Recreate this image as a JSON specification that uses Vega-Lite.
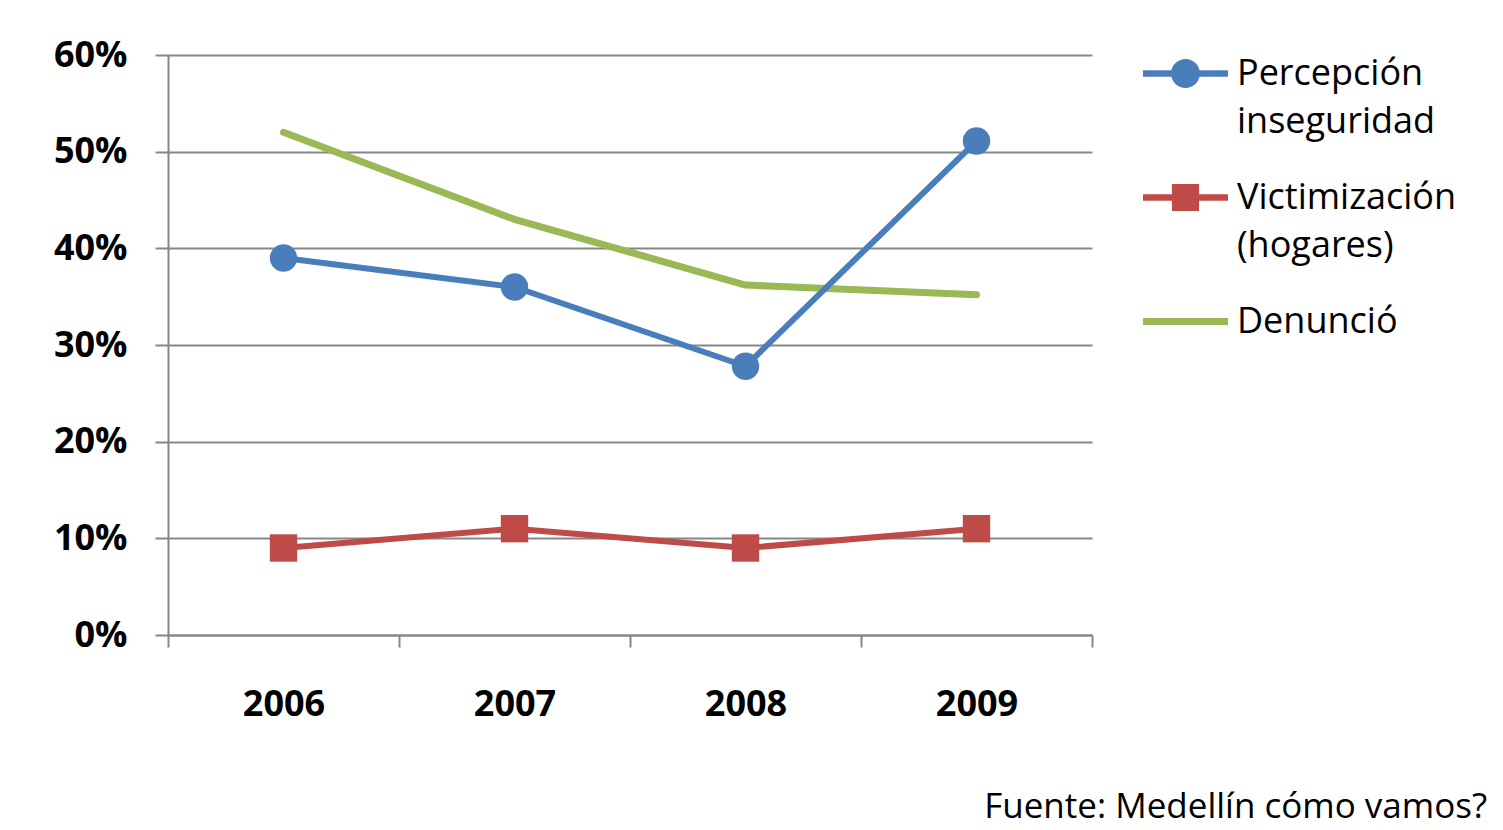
{
  "$schema": "https://vega.github.io/schema/vega-lite/v6.json",
  "autosize": "none",
  "width": 924,
  "height": 580,
  "padding": {"left": 168, "top": 55, "right": 411, "bottom": 195},
  "background": "white",
  "config": {
    "view": {"stroke": null},
    "font": "Open Sans",
    "axis": {
      "domainColor": "#878787",
      "domainWidth": 2,
      "tickColor": "#878787",
      "tickWidth": 2,
      "gridColor": "#878787",
      "gridWidth": 2,
      "labelFont": "Open Sans",
      "labelFontWeight": "bold",
      "labelColor": "black",
      "title": null
    }
  },
  "title": {
    "text": "Fuente: Medellín cómo vamos?",
    "orient": "bottom",
    "anchor": "end",
    "frame": "bounds",
    "font": "Open Sans",
    "fontSize": 35,
    "fontWeight": "normal",
    "color": "black",
    "offset": 68,
    "dx": 30
  },
  "data": {
    "values": [
      {"serie": "Percepción inseguridad", "year": 2006, "value": 0.39},
      {"serie": "Percepción inseguridad", "year": 2007, "value": 0.36},
      {"serie": "Percepción inseguridad", "year": 2008, "value": 0.278},
      {"serie": "Percepción inseguridad", "year": 2009, "value": 0.511},
      {"serie": "Victimización (hogares)", "year": 2006, "value": 0.09},
      {"serie": "Victimización (hogares)", "year": 2007, "value": 0.11},
      {"serie": "Victimización (hogares)", "year": 2008, "value": 0.09},
      {"serie": "Victimización (hogares)", "year": 2009, "value": 0.11},
      {"serie": "Denunció", "year": 2006, "value": 0.52},
      {"serie": "Denunció", "year": 2007, "value": 0.43},
      {"serie": "Denunció", "year": 2008, "value": 0.362},
      {"serie": "Denunció", "year": 2009, "value": 0.352}
    ]
  },
  "encoding": {
    "x": {
      "field": "year",
      "type": "quantitative",
      "scale": {"domain": [2005.5, 2009.5], "nice": false, "zero": false},
      "axis": {
        "values": [2005.5, 2006, 2006.5, 2007, 2007.5, 2008, 2008.5, 2009, 2009.5],
        "labelExpr": "datum.value % 1 == 0 ? '' + datum.value : ''",
        "grid": false,
        "tickSize": 12,
        "tickOpacity": {"condition": {"test": "datum.value % 1 == 0", "value": 0}, "value": 1},
        "labelFontSize": 36,
        "labelPadding": 40,
        "labelFlush": false,
        "labelOverlap": false
      }
    },
    "y": {
      "field": "value",
      "type": "quantitative",
      "scale": {"domain": [0, 0.6], "nice": false},
      "axis": {
        "values": [0, 0.1, 0.2, 0.3, 0.4, 0.5, 0.6],
        "format": ".0%",
        "grid": true,
        "tickSize": 13,
        "labelFontSize": 36,
        "labelPadding": 28
      }
    },
    "color": {
      "field": "serie",
      "type": "nominal",
      "scale": {
        "domain": ["Percepción inseguridad", "Victimización (hogares)", "Denunció"],
        "range": ["#4A7EBB", "#BE4B48", "#98B954"]
      }
    }
  },
  "layer": [
    {
      "mark": {"type": "line", "strokeWidth": 7, "strokeCap": "round", "strokeJoin": "round"},
      "transform": [{"filter": "datum.serie == 'Denunció'"}],
      "encoding": {
        "color": {
          "field": "serie",
          "type": "nominal",
          "legend": {
            "orient": "none",
            "legendX": 975,
            "legendY": -24,
            "padding": 0,
            "title": null,
            "symbolSize": 7225,
            "labelOffset": 9,
            "labelFont": "Open Sans",
            "labelFontSize": 36,
            "labelColor": "black",
            "labelLimit": 400,
            "rowPadding": 15,
            "labelExpr": "split(datum.label, ' ')",
            "encode": {
              "symbols": {
                "update": {
                  "shape": {"signal": "datum.value == 'Denunció' ? 'M-1,-0.08L1,-0.08L1,0.08L-1,0.08Z' : datum.value == 'Percepción inseguridad' ? 'M-1,-0.075L1,-0.075L1,0.075L-1,0.075Z M0.34,0A0.34,0.34 0 1,1 -0.34,0A0.34,0.34 0 1,1 0.34,0Z' : 'M-1,-0.075L1,-0.075L1,0.075L-1,0.075Z M-0.32,-0.32L0.32,-0.32L0.32,0.32L-0.32,0.32Z'"},
                  "fill": {"signal": "scale('color', datum.value)"},
                  "fillOpacity": {"value": 1},
                  "strokeWidth": {"value": 0}
                }
              },
              "labels": {
                "update": {"lineHeight": {"value": 48}}
              }
            }
          }
        }
      }
    },
    {
      "mark": {"type": "line", "strokeWidth": 6, "strokeCap": "round", "strokeJoin": "round"},
      "transform": [{"filter": "datum.serie != 'Denunció'"}],
      "encoding": {"color": {"field": "serie", "type": "nominal"}}
    },
    {
      "mark": {"type": "point", "filled": true, "opacity": 1, "strokeWidth": 0},
      "transform": [{"filter": "datum.serie != 'Denunció'"}],
      "encoding": {
        "shape": {
          "field": "serie",
          "type": "nominal",
          "scale": {"domain": ["Percepción inseguridad", "Victimización (hogares)"], "range": ["circle", "square"]},
          "legend": null
        },
        "size": {"value": 750}
      }
    }
  ]
}
